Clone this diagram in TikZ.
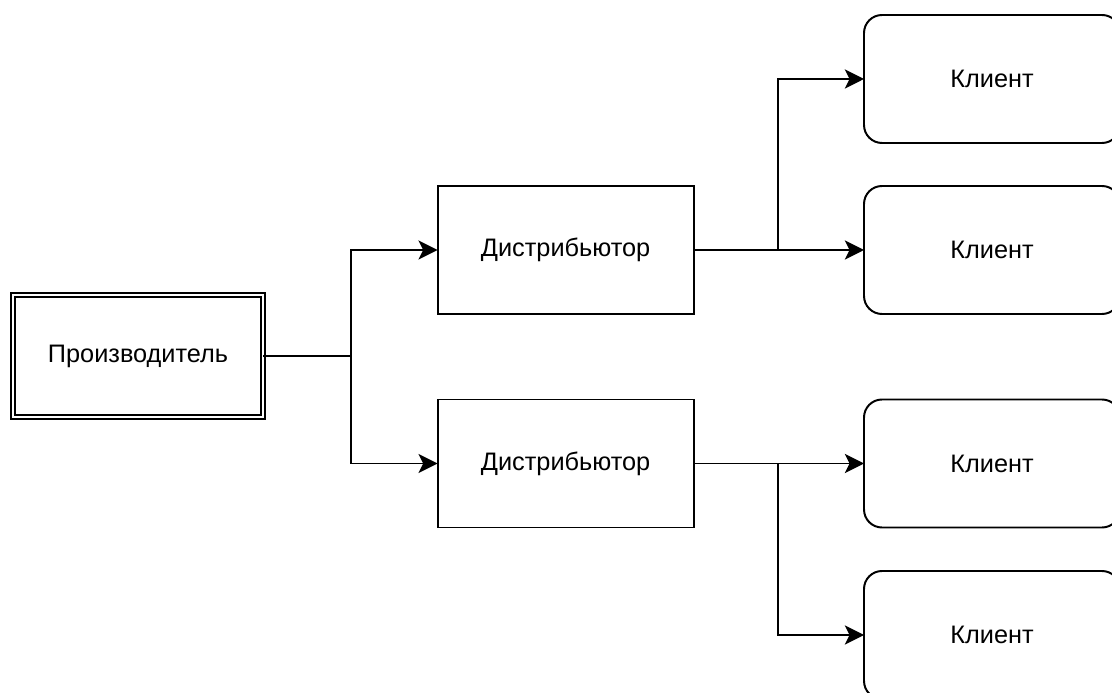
\documentclass[tikz,border=0pt]{standalone}
\usepackage{fontspec}
\setmainfont{Liberation Sans}
\usepackage{tikz}
\usetikzlibrary{shapes.geometric, arrows.meta, backgrounds}

\begin{document}
\begin{tikzpicture}[line width=1.4pt, font=\fontsize{18}{21}\selectfont]
    \useasboundingbox (0, 0) rectangle (27.8, 17.325);

    % Define styles for boxes and arrows
    \tikzstyle{maker} = [rectangle, minimum width=6.25cm, minimum height=3.05cm, text centered, draw=black, double, double distance=0.05cm, line width=1.1pt, outer sep=0pt]
    \tikzstyle{dealer} = [rectangle, minimum width=6.4cm, minimum height=3.2cm, text centered, draw=black, outer sep=0pt]
    \tikzstyle{client} = [rectangle, rounded corners=0.45cm, minimum width=6.4cm, minimum height=3.2cm, text centered, draw=black, outer sep=0pt]
    \tikzstyle{arrow} = [-{Stealth[length=0.48cm, width=0.48cm, inset=0.12cm]}]
    \tikzstyle{line} = [-]

    % boxes
    \node (producer) [maker] at (3.45, 8.425) {Производитель};
    \node (dist1) [dealer] at (14.14, 11.075) {Дистрибьютор};
    \node (dist2) [dealer] at (14.14, 5.7375) {Дистрибьютор};
    \node (client1) [client] at (24.8, 15.35) {Клиент};
    \node (client2) [client] at (24.8, 11.075) {Клиент};
    \node (client3) [client] at (24.8, 5.7375) {Клиент};
    \node (client4) [client] at (24.8, 1.45) {Клиент};

    % branch points
    \coordinate (split1) at (8.775, 8.425);
    \coordinate (split2) at (19.45, 11.075);
    \coordinate (split3) at (19.45, 5.7375);

    % Arrows
    \draw [line] (producer) -- (split1);
    \draw [arrow] (split1) |- (dist1);
    \draw [arrow] (split1) |- (dist2);
    \draw [arrow] (dist1) -- (client2);
    \draw [arrow] (split2) |- (client1);
    \draw [arrow] (dist2) -- (client3);
    \draw [arrow] (split3) |- (client4);
\end{tikzpicture}
\end{document}
